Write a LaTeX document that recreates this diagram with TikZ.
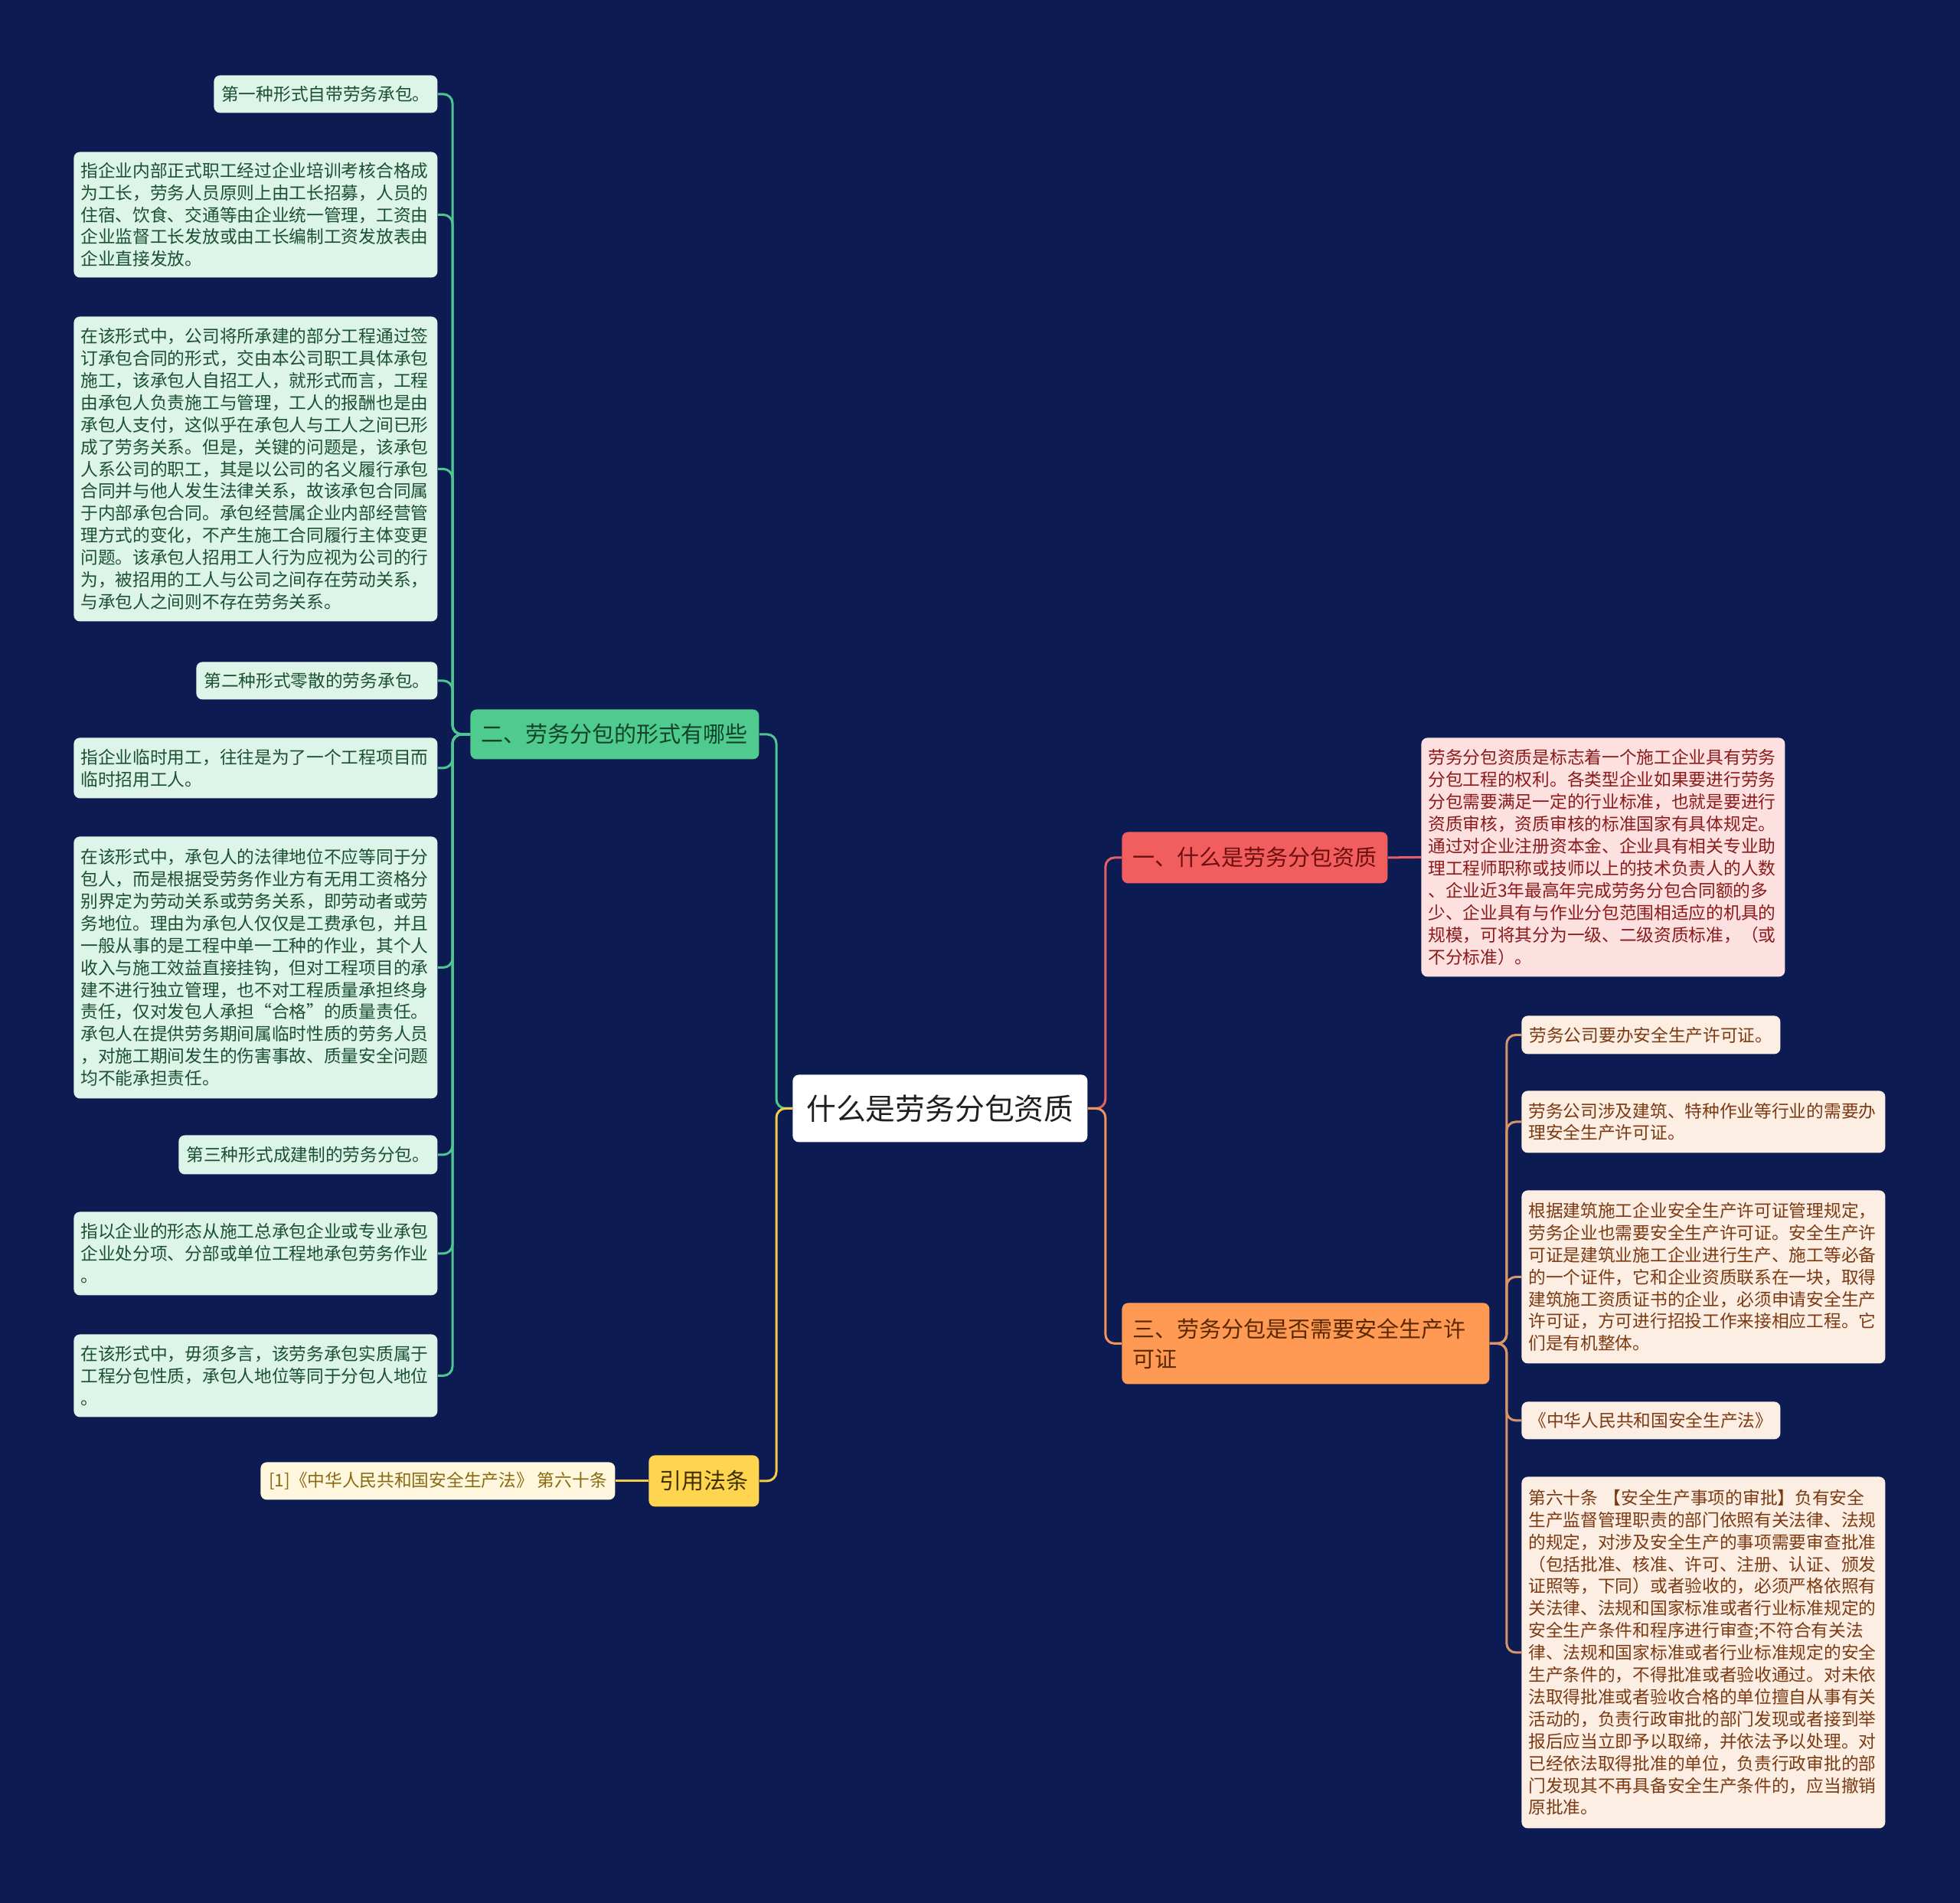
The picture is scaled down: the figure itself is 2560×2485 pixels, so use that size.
\documentclass[tikz,border=0pt]{standalone}
\usepackage{fontspec}
\setmainfont{Noto Sans CJK SC}
\definecolor{bgc}{HTML}{0C1C52}
\definecolor{gfill}{HTML}{4ECB8D}
\definecolor{gtext}{HTML}{14432B}
\definecolor{gleaf}{HTML}{DDF4E8}
\definecolor{gleaftext}{HTML}{1B5034}
\definecolor{gline}{HTML}{4FC692}
\definecolor{rfill}{HTML}{F25E5E}
\definecolor{rtext}{HTML}{6E0F0F}
\definecolor{rleaf}{HTML}{FDE1E1}
\definecolor{rleaftext}{HTML}{8B1A1A}
\definecolor{rline}{HTML}{E65F66}
\definecolor{ofill}{HTML}{FF9A55}
\definecolor{otext}{HTML}{5C2800}
\definecolor{oleaf}{HTML}{FDEEE4}
\definecolor{oleaftext}{HTML}{7B3A12}
\definecolor{oline}{HTML}{F0945A}
\definecolor{oline2}{HTML}{D9956A}
\definecolor{yfill}{HTML}{FFD54F}
\definecolor{ytext}{HTML}{3E3000}
\definecolor{yleaf}{HTML}{FFF8DE}
\definecolor{yleaftext}{HTML}{8A6A10}
\definecolor{yline}{HTML}{F2CD45}
\newcommand\bx[7]{\node[#2,anchor=north west,minimum width={(#5-#3)*0.5pt},minimum height={(#6-#4)*0.5pt}] (#1) at (#3,#4) {#7};}
\begin{document}
\begin{tikzpicture}[x=0.5pt,y=-0.5pt,
  box/.style={rectangle,rounded corners=4pt,inner xsep=4.5pt,inner ysep=3pt},
  leaf/.style={box,font=\fontsize{11.35pt}{14.45pt}\selectfont},
  longleaf/.style={leaf,text width=228.5pt,align=left},
  branch/.style={box,font=\fontsize{14.5pt}{19.5pt}\selectfont},
  gleafs/.style={fill=gleaf,text=gleaftext},
  rleafs/.style={fill=rleaf,text=rleaftext},
  oleafs/.style={fill=oleaf,text=oleaftext},
  yleafs/.style={fill=yleaf,text=yleaftext},
  conn/.style={line width=1.5pt,rounded corners=6pt}]
\useasboundingbox (0,0) rectangle (2560,2485);
\fill[bgc] (0,0) rectangle (2560,2485);
% center
\bx{c}{box,fill=white,text=black!88,font=\fontsize{19.4pt}{24pt}\selectfont}{1035}{1403}{1420}{1491}{什么是劳务分包资质}
% branches
\bx{b1}{branch,fill=rfill,text=rtext}{1465}{1086}{1812}{1153}{一、什么是劳务分包资质}
\bx{b2}{branch,fill=gfill,text=gtext}{614}{926}{991}{991}{二、劳务分包的形式有哪些}
\bx{b3}{branch,fill=ofill,text=otext,text width=226pt,align=left,inner xsep=7pt}{1465}{1701}{1945}{1807}{三、劳务分包是否需要安全生产许\\可证}
\bx{b4}{branch,fill=yfill,text=ytext}{847}{1900}{991}{1967}{引用法条}
% left leaves
\bx{l1}{leaf,gleafs}{279}{98}{571}{147}{第一种形式自带劳务承包。}
\bx{l2}{longleaf,gleafs}{96}{198}{571}{362}{指企业内部正式职工经过企业培训考核合格成\\为工长，劳务人员原则上由工长招募，人员的\\住宿、饮食、交通等由企业统一管理，工资由\\企业监督工长发放或由工长编制工资发放表由\\企业直接发放。}
\bx{l3}{longleaf,gleafs}{96}{413}{571}{811}{在该形式中，公司将所承建的部分工程通过签\\订承包合同的形式，交由本公司职工具体承包\\施工，该承包人自招工人，就形式而言，工程\\由承包人负责施工与管理，工人的报酬也是由\\承包人支付，这似乎在承包人与工人之间已形\\成了劳务关系。但是，关键的问题是，该承包\\人系公司的职工，其是以公司的名义履行承包\\合同并与他人发生法律关系，故该承包合同属\\于内部承包合同。承包经营属企业内部经营管\\理方式的变化，不产生施工合同履行主体变更\\问题。该承包人招用工人行为应视为公司的行\\为，被招用的工人与公司之间存在劳动关系，\\与承包人之间则不存在劳务关系。}
\bx{l4}{leaf,gleafs}{256}{864}{571}{913}{第二种形式零散的劳务承包。}
\bx{l5}{longleaf,gleafs}{96}{963}{571}{1042}{指企业临时用工，往往是为了一个工程项目而\\临时招用工人。}
\bx{l6}{longleaf,gleafs}{96}{1092}{571}{1434}{在该形式中，承包人的法律地位不应等同于分\\包人，而是根据受劳务作业方有无用工资格分\\别界定为劳动关系或劳务关系，即劳动者或劳\\务地位。理由为承包人仅仅是工费承包，并且\\一般从事的是工程中单一工种的作业，其个人\\收入与施工效益直接挂钩，但对工程项目的承\\建不进行独立管理，也不对工程质量承担终身\\责任，仅对发包人承担“合格”的质量责任。\\承包人在提供劳务期间属临时性质的劳务人员\\，对施工期间发生的伤害事故、质量安全问题\\均不能承担责任。}
\bx{l7}{leaf,gleafs}{233}{1482}{571}{1533}{第三种形式成建制的劳务分包。}
\bx{l8}{longleaf,gleafs}{96}{1582}{571}{1691}{指以企业的形态从施工总承包企业或专业承包\\企业处分项、分部或单位工程地承包劳务作业\\。}
\bx{l9}{longleaf,gleafs}{96}{1742}{571}{1850}{在该形式中，毋须多言，该劳务承包实质属于\\工程分包性质，承包人地位等同于分包人地位\\。}
% yellow leaf
\bx{y1}{leaf,yleafs}{340}{1909}{803}{1958}{[1]《中华人民共和国安全生产法》 第六十条}
% pink leaf
\bx{p1}{longleaf,rleafs}{1856}{963}{2330}{1275}{劳务分包资质是标志着一个施工企业具有劳务\\分包工程的权利。各类型企业如果要进行劳务\\分包需要满足一定的行业标准，也就是要进行\\资质审核，资质审核的标准国家有具体规定。\\通过对企业注册资本金、企业具有相关专业助\\理工程师职称或技师以上的技术负责人的人数\\、企业近3年最高年完成劳务分包合同额的多\\少、企业具有与作业分包范围相适应的机具的\\规模，可将其分为一级、二级资质标准，（或\\不分标准）。}
% orange leaves
\bx{r1}{leaf,oleafs}{1987}{1326}{2325}{1376}{劳务公司要办安全生产许可证。}
\bx{r2}{longleaf,oleafs}{1987}{1424}{2462}{1505}{劳务公司涉及建筑、特种作业等行业的需要办\\理安全生产许可证。}
\bx{r3}{longleaf,oleafs}{1987}{1554}{2462}{1780}{根据建筑施工企业安全生产许可证管理规定，\\劳务企业也需要安全生产许可证。安全生产许\\可证是建筑业施工企业进行生产、施工等必备\\的一个证件，它和企业资质联系在一块，取得\\建筑施工资质证书的企业，必须申请安全生产\\许可证，方可进行招投工作来接相应工程。它\\们是有机整体。}
\bx{r4}{leaf,oleafs}{1987}{1830}{2325}{1879}{《中华人民共和国安全生产法》}
\bx{r5}{longleaf,oleafs}{1987}{1928}{2462}{2387}{第六十条 【安全生产事项的审批】负有安全\\生产监督管理职责的部门依照有关法律、法规\\的规定，对涉及安全生产的事项需要审查批准\\（包括批准、核准、许可、注册、认证、颁发\\证照等，下同）或者验收的，必须严格依照有\\关法律、法规和国家标准或者行业标准规定的\\安全生产条件和程序进行审查;不符合有关法\\律、法规和国家标准或者行业标准规定的安全\\生产条件的，不得批准或者验收通过。对未依\\法取得批准或者验收合格的单位擅自从事有关\\活动的，负责行政审批的部门发现或者接到举\\报后应当立即予以取缔，并依法予以处理。对\\已经依法取得批准的单位，负责行政审批的部\\门发现其不再具备安全生产条件的，应当撤销\\原批准。}
% connectors
\draw[conn,gline] (c.west) -- ++(-21,0) |- (b2.east);
\draw[conn,yline] (c.west) -- ++(-21,0) |- (b4.east);
\draw[conn,rline] (c.east) -- ++(23,0) |- (b1.west);
\draw[conn,oline] (c.east) -- ++(23,0) |- (b3.west);
\foreach \n in {l1,l2,l3,l4,l5,l6,l7,l8,l9}
  \draw[conn,gline] (b2.west) -- ++(-23,0) |- (\n.east);
\foreach \n in {r1,r2,r3,r4,r5}
  \draw[conn,oline2] (b3.east) -- ++(22,0) |- (\n.west);
\draw[conn,rline] (b1.east) -- (p1.west);
\draw[conn,yline] (b4.west) -- (y1.east);
\end{tikzpicture}
\end{document}
